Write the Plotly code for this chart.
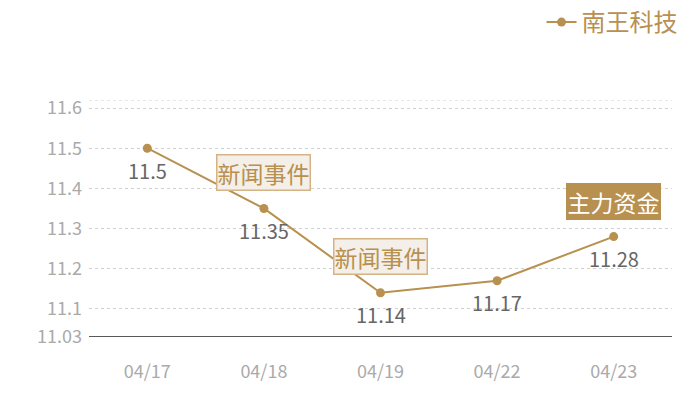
import plotly.graph_objects as go

# data
dates = ["04/17", "04/18", "04/19", "04/22", "04/23"]
prices = [11.5, 11.35, 11.14, 11.17, 11.28]
series_name = "南王科技"

# event markers: (date, price, label, kind)
events = [
    ("04/18", 11.35, "新闻事件", "news"),
    ("04/19", 11.14, "新闻事件", "news"),
    ("04/23", 11.28, "主力资金", "fund"),
]

y_min, y_max = 11.03, 11.62
y_ticks = [11.03, 11.1, 11.2, 11.3, 11.4, 11.5, 11.6]
y_tick_text = ["11.03", "11.1", "11.2", "11.3", "11.4", "11.5", "11.6"]

gold = "#b8904f"
font_cn = "Noto Sans CJK SC"

fig = go.Figure()

fig.add_trace(go.Scatter(
    x=dates, y=prices, name=series_name,
    mode="lines+markers",
    line=dict(color=gold, width=2),
    marker=dict(color=gold, size=9),
    cliponaxis=False,
))

# value labels under each point
for d, p in zip(dates, prices):
    fig.add_annotation(
        x=d, y=p, text=str(p), showarrow=False, yshift=-22,
        font=dict(size=20, color="#666666", family=font_cn),
    )

for d, p, label, kind in events:
    if kind == "news":
        fig.add_annotation(
            x=d, y=p, text=label, showarrow=False, yshift=36,
            font=dict(size=23, color=gold, family=font_cn),
            bgcolor="#f4efe8", bordercolor="#d4b385", borderwidth=1.5, borderpad=0,
        )
    else:
        fig.add_annotation(
            x=d, y=p, text=label, showarrow=False, yshift=35,
            font=dict(size=23, color="white", family=font_cn),
            bgcolor=gold, bordercolor=gold, borderwidth=1.5, borderpad=0,
        )

fig.update_layout(
    width=700, height=400,
    margin=dict(l=89, r=28, t=100, b=63, autoexpand=False),
    plot_bgcolor="white", paper_bgcolor="white",
    font=dict(family=font_cn),
    showlegend=True,
    legend=dict(
        x=0.975, y=1.045, xref="container", yref="container",
        xanchor="right", yanchor="top",
        font=dict(size=24, color=gold, family=font_cn),
        itemwidth=30, bgcolor="rgba(0,0,0,0)",
    ),
    xaxis=dict(
        type="category", range=[-0.5, 4.5],
        showgrid=False, showline=False, zeroline=False,
        ticks="", tickfont=dict(size=18, color="#aaaaaa"),
        ticklabelstandoff=22,
    ),
    yaxis=dict(
        range=[y_min, y_max],
        tickvals=y_ticks, ticktext=y_tick_text,
        showgrid=True, gridcolor="#d0d0d0", griddash="dot", gridwidth=1,
        zeroline=False, showline=False,
        ticks="", tickfont=dict(size=18, color="#aaaaaa"),
        ticklabelstandoff=6,
    ),
)

# top grid line at the upper end of the range
fig.add_shape(type="line", xref="paper", yref="y", x0=0, x1=1,
              y0=y_max, y1=y_max, layer="below",
              line=dict(color="#d0d0d0", width=1, dash="dot"))

# solid baseline at the bottom of the plot
fig.add_shape(type="line", xref="paper", yref="y", x0=0, x1=1,
              y0=y_min, y1=y_min, line=dict(color="#222222", width=1.5))

fig.write_html("out.html", config={"displayModeBar": False},
               post_script="document.body.style.margin='0';")
